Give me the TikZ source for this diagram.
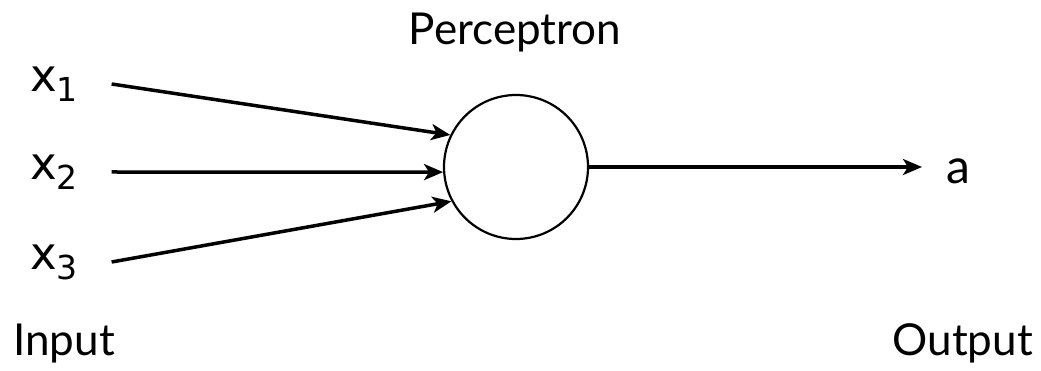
\documentclass[tikz,border=0pt]{standalone}
\usepackage{fontspec}
\setmainfont{Lato}
\newfontfamily\inpfont{DejaVu Sans}
\usetikzlibrary{arrows.meta}
\newcommand{\inlabel}[1]{{\inpfont\fontsize{45}{50}\selectfont x\raisebox{-10pt}{\fontsize{33}{36}\selectfont #1}}}
\begin{document}
\begin{tikzpicture}[x=1pt, y=-1pt, >={Stealth[length=19pt, width=16pt, inset=5pt]},
	every node/.style={font=\fontsize{44}{50}\selectfont},
	inp/.style={anchor=west, inner sep=0pt, outer xsep=34pt},
	conn/.style={->, line width=3.5pt}]
	\useasboundingbox (0,0) rectangle (1041,371);
	\node[circle, draw, line width=2.2pt, minimum size=144pt, inner sep=0pt] (neuron) at (516,167) {};
	\node[anchor=base] (title) at (515,45) {Perceptron};
	\node[inp] (x1) at (-4,84) {\inlabel{1}};
	\node[inp] (x2) at (-4,172) {\inlabel{2}};
	\node[inp] (x3) at (-4,262) {\inlabel{3}};
	\node[anchor=west, inner sep=0pt, font=\fontsize{48}{52}\selectfont] (a) at (946,171) {a};
	\node[anchor=base west, inner sep=0pt] (inlbl) at (13,355) {Input};
	\node[anchor=base east, inner sep=0pt] (outlbl) at (1033,355) {Output};
	\draw[conn] (x1.east) -- (neuron.154);
	\draw[conn] (x2.east) -- (neuron.184);
	\draw[conn] (x3.east) -- (neuron.208);
	\draw[conn, shorten >=24pt] (neuron.east) -- (neuron.east -| a.west);
\end{tikzpicture}
\end{document}
